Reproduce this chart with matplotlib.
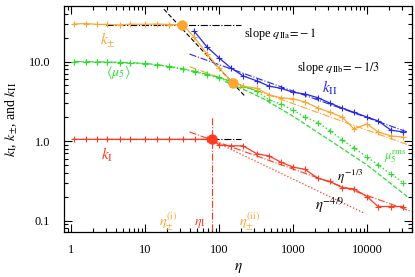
import numpy as np
import matplotlib
matplotlib.use("Agg")
import matplotlib.pyplot as plt
from matplotlib.ticker import FixedLocator, FixedFormatter, LogLocator, NullFormatter

plt.rcParams['font.family'] = ['Liberation Serif', 'DejaVu Serif']
plt.rcParams['mathtext.fontset'] = 'stix'

# ---- data ----
eta_early = [1.10, 1.59, 2.25, 3.07, 4.59, 6.27, 10, 14.5, 21.1, 32.6, 47.4, 69]
eta_late = [100, 145, 211, 326, 474, 689, 1000, 1453, 2177, 3162, 4592, 6670, 10000, 14100, 21100, 30600]

kI_early = [1.05, 1.05, 1.05, 1.05, 1.05, 1.05, 1.05, 1.05, 1.05, 1.05, 1.05, 1.05]
kI_late = [0.89, 0.87, 0.87, 0.69, 0.65, 0.54, 0.47, 0.44, 0.34, 0.31, 0.26, 0.25, 0.20, 0.15, 0.15, 0.15]

kpm_eta = [1.10, 1.59, 2.25, 3.07, 4.59, 6.27, 10, 14.5, 21.1, 32.6, 46, 69] + eta_late
kpm_val = [29.6, 30.0, 29.3, 29.3, 28.8, 29.5, 29.3, 29.6, 29.2, 28.8, 20.3, 12.4,
           8.3, 5.7, 4.9, 4.6, 3.8, 3.5, 3.4, 3.1, 2.6, 2.3, 2.0, 1.42, 1.64, 1.30, 1.16, 1.12]

kII_eta = [46, 69] + eta_late
kII_val = [24.2, 15.2, 11.1, 8.3, 6.6, 5.7, 4.9, 4.6, 4.1, 3.9, 3.5, 3.0, 2.6, 2.3, 2.0, 1.79, 1.37, 1.30]

mu5_eta = eta_early + eta_late
mu5rms_val = [9.9, 9.9, 9.85, 9.8, 9.7, 9.6, 9.4, 9.1, 8.6, 8.0, 7.4, 6.8,
              6.2, 5.5, 4.8, 4.25, 3.3, 2.9, 2.45, 2.0, 1.7, 1.35, 1.03, 0.82, 0.63, 0.50, 0.385, 0.30]
mu5mean_eta = eta_early + [100, 145, 211, 326]
mu5mean_val = [10.0, 9.95, 9.9, 9.85, 9.75, 9.65, 9.45, 9.15, 8.7, 8.1, 7.5, 6.9,
               6.3, 5.6, 4.9, 4.3]

mu5fit_eta = [120, 200, 400, 1000, 3000, 10000, 35000]
mu5fit_val = [5.6, 4.6, 3.4, 2.05, 1.05, 0.50, 0.20]

# characteristic points
eta_pm1, kpm1 = 31.6, 28.8
eta_pm2, kpm2 = 155, 5.4
eta_I, kI0 = 80, 1.05

# reference lines (endpoints)
slope_m1_eta = [18, 220]
slope_m1_val = [45.5, 3.73]
kII_fit_eta = [40, 35000]
kII_fit_val = [12.4, 1.30]
kpm_fit_eta = [40, 38000]
kpm_fit_val = [8.6, 0.88]
kI_fit13_eta = [40, 40000]
kI_fit13_val = [1.30, 0.130]
kI_fit49_eta = [90, 9000]
kI_fit49_val = [0.97, 0.125]
hline_eta = [3, 200]

c_or = '#FFA530'
c_bl = '#2828E6'
c_gr = '#30DC30'
c_rd = '#FF3A22'

fig = plt.figure(figsize=(4.15, 2.77), dpi=100)
ax = fig.add_axes([64/415, 45/277, 348/415, 226/277])
ax.set_xscale('log')
ax.set_yscale('log')

lw = 0.9
ms = 5
mew = 0.8

# horizontal black dash-dot
ax.plot(hline_eta, [kpm1, kpm1], color='k', ls='-.', lw=0.8)
ax.plot(hline_eta, [kI0, kI0], color='k', ls='-.', lw=0.8)
# slope -1 dashed
ax.plot(slope_m1_eta, slope_m1_val, color='k', ls=(0, (4, 2)), lw=0.8)

# fits
ax.plot(kII_fit_eta, kII_fit_val, color=c_bl, ls='-.', lw=0.8)
ax.plot(kpm_fit_eta, kpm_fit_val, color=c_or, ls='-.', lw=0.8)
ax.plot(kI_fit13_eta, kI_fit13_val, color=c_rd, ls='-.', lw=0.8)
ax.plot(kI_fit49_eta, kI_fit49_val, color=c_rd, ls=':', lw=0.9)
ax.plot(mu5fit_eta, mu5fit_val, color=c_gr, ls='--', lw=0.9)

# vertical eta_I line
ax.plot([eta_I, eta_I], [0.01, 2.0], color=c_rd, ls='-.', lw=0.8)

# data
ax.plot(mu5_eta, mu5rms_val, color=c_gr, ls=':', lw=1.0, marker='+', ms=ms, mew=mew)
ax.plot(mu5mean_eta, mu5mean_val, color=c_gr, ls='-.', lw=0.8, marker='+', ms=ms, mew=mew)
ax.plot(kpm_eta, kpm_val, color=c_or, ls='-', lw=lw, marker='+', ms=ms, mew=mew)
ax.plot(kII_eta, kII_val, color=c_bl, ls='-', lw=lw, marker='+', ms=ms, mew=mew)
ax.plot(eta_early + [eta_I] + eta_late, kI_early + [kI0] + kI_late,
        color=c_rd, ls='-', lw=lw, marker='+', ms=ms, mew=mew)

ax.plot([eta_pm1, eta_pm2], [kpm1, kpm2], ls='none', marker='o', ms=6.5, color=c_or)
ax.plot([eta_I], [kI0], ls='none', marker='o', ms=6.5, color=c_rd)

ax.set_xlim(0.804, 40600)
ax.set_ylim(0.0717, 49.9)

fs = 8.8
ax.xaxis.set_major_locator(FixedLocator([1, 10, 100, 1000, 10000]))
ax.xaxis.set_major_formatter(FixedFormatter(['1', '10', '100', '1000', '10000']))
ax.xaxis.set_minor_locator(LogLocator(base=10, subs=np.arange(2, 10), numticks=20))
ax.xaxis.set_minor_formatter(NullFormatter())
ax.yaxis.set_major_locator(FixedLocator([0.1, 1, 10]))
ax.yaxis.set_major_formatter(FixedFormatter(['0.1', '1.0', '10.0']))
ax.yaxis.set_minor_locator(LogLocator(base=10, subs=np.arange(2, 10), numticks=20))
ax.yaxis.set_minor_formatter(NullFormatter())
ax.tick_params(which='both', direction='in', top=True, right=True, labelsize=fs, width=0.8)
ax.tick_params(which='major', length=6)
ax.tick_params(axis='x', which='major', pad=8.5)
ax.tick_params(axis='y', which='major', pad=10)
ax.tick_params(which='minor', length=3)
for s in ax.spines.values():
    s.set_linewidth(0.9)

ax.set_xlabel(r'$\eta$', fontsize=11, labelpad=4)
ax.set_ylabel(r'$k_{\rm I}$, $k_{\pm}$, and $k_{\rm II}$', fontsize=10, labelpad=6)

tfs = 8.8
ax.text(667, 22.2, r'slope $q_{\rm IIa}\!=\!-1$', fontsize=tfs, ha='center', va='center')
ax.text(4190, 8.3, r'slope $q_{\rm IIb}\!=\!-1/3$', fontsize=tfs, ha='center', va='center')
ax.text(3160, 4.64, r'$k_{\rm II}$', fontsize=11, ha='center', va='center', color=c_bl)
ax.text(3.16, 18.6, r'$k_{\pm}$', fontsize=11, ha='center', va='center', color=c_or)
ax.text(4.32, 7.17, r'$\langle\mu_5\rangle$', fontsize=10, ha='center', va='center', color=c_gr)
ax.text(3.07, 0.667, r'$k_{\rm I}$', fontsize=11, ha='center', va='center', color=c_rd)
ax.text(23900, 0.63, r'$\mu_5^{\rm rms}$', fontsize=9, ha='center', va='center', color=c_gr)
ax.text(5890, 0.352, r'$\eta^{-1/3}$', fontsize=9.5, ha='center', va='center')
ax.text(3160, 0.157, r'$\eta^{-4/9}$', fontsize=10.5, ha='center', va='center')
ax.text(20.5, 0.0986, r'$\eta_{\pm}^{\rm (i)}$', fontsize=10, ha='center', va='center', color=c_or)
ax.text(55.4, 0.093, r'$\eta_{\rm I}$', fontsize=10, ha='center', va='center', color=c_rd)
ax.text(262, 0.0986, r'$\eta_{\pm}^{\rm (ii)}$', fontsize=10, ha='center', va='center', color=c_or)

fig.savefig('out.png', dpi=100)
